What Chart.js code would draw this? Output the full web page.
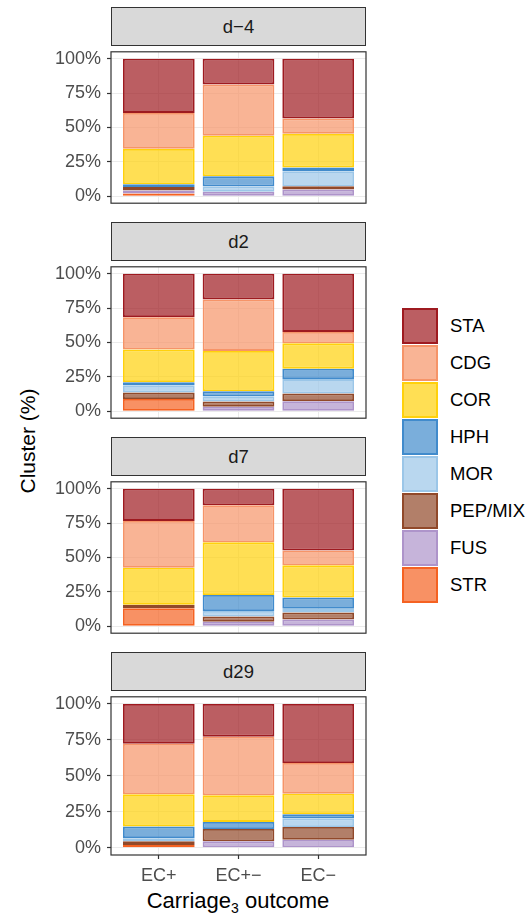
<!DOCTYPE html>
<html>
<head>
  <meta charset="UTF-8">
  <title>Cluster by carriage outcome</title>
  <script src="https://cdn.jsdelivr.net/npm/chart.js"></script>
  <style>
    body { margin: 0; background: #fff; font-family: 'Liberation Sans', Arial, Helvetica, sans-serif; }
    #wrap { position: relative; width: 532px; height: 919px; overflow: hidden; }
    canvas { position: absolute; left: 0; }
    .strip {
      position: absolute; left: 111px; width: 255px; height: 39px; box-sizing: border-box;
      background: #d9d9d9; border: 1.2px solid #333; color: #1a1a1a;
      font-size: 18.5px; line-height: 37px; text-align: center;
    }
    .ytitle {
      position: absolute; left: 28px; top: 441px; transform: translate(-50%, -50%) rotate(-90deg);
      font-size: 21px; white-space: nowrap; color: #000;
    }
    .xtitle {
      position: absolute; left: 238px; top: 888px; transform: translateX(-50%);
      font-size: 22px; white-space: nowrap; color: #000; line-height: 26px;
    }
    .xtitle sub { font-size: 14px; vertical-align: -5px; line-height: 0; }
    .key { position: absolute; left: 402px; width: 36px; height: 36px; box-sizing: border-box; }
    .klab { position: absolute; left: 450px; font-size: 18.5px; line-height: 36px; color: #000; white-space: nowrap; }
  </style>
</head>
<body>
<div id="wrap">
  <div class="ytitle">Cluster (%)</div>
  <div class="xtitle">Carriage<sub>3</sub> outcome</div>
</div>

<script>
  // facets, x categories and clusters (legend order, top of stack first)
  const facets = ['d−4', 'd2', 'd7', 'd29'];
  const outcomes = ['EC+', 'EC+−', 'EC−'];
  const clusters = ['STA', 'CDG', 'COR', 'HPH', 'MOR', 'PEP/MIX', 'FUS', 'STR'];
  const colors = ['#9e1a20', '#f69468', '#ffd10c', '#418bcc', '#9bc6e8', '#91492a', '#ae94ca', '#f56222'];

  // % of each cluster, one row per facet: [EC+, EC+−, EC−]
  const STA = [[39.4, 18.7, 43.4], [31.6, 18.7, 42.3], [23.4, 12.0, 45.0], [27.6, 22.7, 41.0]];
  const CDG = [[26.1, 37.3, 11.2], [23.4, 37.4, 8.3], [34.1, 27.0, 10.7], [35.2, 40.8, 21.4]];
  const COR = [[25.8, 29.5, 24.5], [23.8, 29.4, 18.4], [26.9, 38.3, 23.4], [22.3, 18.5, 14.2]];
  const HPH = [[2.0, 7.4, 2.6], [2.3, 3.6, 7.6], [0, 11.6, 8.2], [8.2, 4.9, 2.9]];
  const MOR = [[0, 3.8, 11.0], [5.3, 3.8, 10.4], [0, 4.0, 2.7], [2.2, 0, 6.0]];
  const PEP = [[2.5, 0, 2.4], [4.7, 3.8, 5.6], [2.5, 3.8, 5.1], [2.5, 8.6, 8.9]];
  const FUS = [[2.2, 3.3, 4.9], [0, 3.3, 7.4], [0, 3.3, 4.9], [0, 4.5, 5.6]];
  const STR = [[2.0, 0, 0], [8.9, 0, 0], [13.1, 0, 0], [2.0, 0, 0]];
  const values = [STA, CDG, COR, HPH, MOR, PEP, FUS, STR];

  const yTicks = [0, 12.5, 25, 37.5, 50, 62.5, 75, 87.5, 100];
  const FONT = "'Liberation Sans', Arial, Helvetica, sans-serif";

  function alpha(hex, a) {
    const n = parseInt(hex.slice(1), 16);
    return 'rgba(' + (n >> 16) + ',' + ((n >> 8) & 255) + ',' + (n & 255) + ',' + a + ')';
  }

  const panelBorder = {
    id: 'panelBorder',
    afterDatasetsDraw(chart) {
      const a = chart.chartArea, c = chart.ctx;
      c.save();
      c.strokeStyle = '#333';
      c.lineWidth = 1.2;
      c.strokeRect(a.left, a.top, a.right - a.left, a.bottom - a.top);
      c.restore();
    }
  };

  const wrap = document.getElementById('wrap');
  const panelTops = [45, 260, 475, 690];
  const panelH = 165;

  facets.forEach((name, f) => {
    const last = f === facets.length - 1;
    const strip = document.createElement('div');
    strip.className = 'strip';
    strip.style.top = (panelTops[f] - 38.5) + 'px';
    strip.textContent = name;
    wrap.appendChild(strip);

    const cv = document.createElement('canvas');
    const h = panelH + 20 + (last ? 30 : 0);
    cv.width = 372; cv.height = h;
    cv.style.top = (panelTops[f] - 10) + 'px';
    wrap.appendChild(cv);

    // bottom of the stack first
    const datasets = clusters.map((c, k) => k).reverse().map(k => ({
      label: clusters[k],
      data: values[k][f].map((v, i) => ({ x: i + 1, y: v })).filter(p => p.y > 0),
      backgroundColor: alpha(colors[k], 0.7),
      borderColor: colors[k],
      borderWidth: 1.8,
      borderSkipped: false,
      barPercentage: 0.9,
      categoryPercentage: 1
    }));

    new Chart(cv, {
      type: 'bar',
      data: { datasets },
      plugins: [panelBorder],
      options: {
        responsive: false,
        animation: false,
        layout: { padding: { top: 10, bottom: 10, left: 0, right: 6 } },
        plugins: { legend: { display: false }, tooltip: { enabled: false } },
        scales: {
          x: {
            type: 'linear', stacked: true, min: 0.4, max: 3.6, offset: false,
            afterBuildTicks: s => { s.ticks = outcomes.map((o, i) => ({ value: i + 1 })); },
            afterFit: s => { s.height = last ? 30 : 0; },
            ticks: {
              display: last, autoSkip: false, maxRotation: 0, padding: 6,
              callback: v => outcomes[v - 1],
              color: '#4d4d4d', font: { family: FONT, size: 18 }
            },
            grid: { offset: false, color: '#ebebeb', lineWidth: 1, drawTicks: last, tickLength: 4, tickColor: '#333', tickWidth: 1.2 },
            border: { display: false }
          },
          y: {
            stacked: true, min: -5, max: 105,
            afterBuildTicks: s => { s.ticks = yTicks.map(v => ({ value: v })); },
            afterFit: s => { s.width = 111; },
            ticks: {
              padding: 6, color: '#4d4d4d', font: { family: FONT, size: 18 },
              callback: v => (v % 25 === 0 ? v + '%' : '')
            },
            grid: {
              color: ctx => (ctx.tick && ctx.tick.value % 25 !== 0 ? '#f3f3f3' : '#ebebeb'),
              lineWidth: ctx => (ctx.tick && ctx.tick.value % 25 !== 0 ? 0.6 : 1),
              tickLength: 4, tickWidth: 1.2,
              tickColor: ctx => (ctx.tick && ctx.tick.value % 25 !== 0 ? 'rgba(0,0,0,0)' : '#333')
            },
            border: { display: false }
          }
        }
      }
    });
  });

  // legend built from the same cluster arrays
  clusters.forEach((c, k) => {
    const top = 307.5 + k * 37.1;
    const key = document.createElement('div');
    key.className = 'key';
    key.style.top = top + 'px';
    key.style.background = alpha(colors[k], 0.7);
    key.style.border = '2px solid ' + colors[k];
    wrap.appendChild(key);
    const lab = document.createElement('div');
    lab.className = 'klab';
    lab.style.top = top + 'px';
    lab.textContent = c;
    wrap.appendChild(lab);
  });
</script>
</body>
</html>
